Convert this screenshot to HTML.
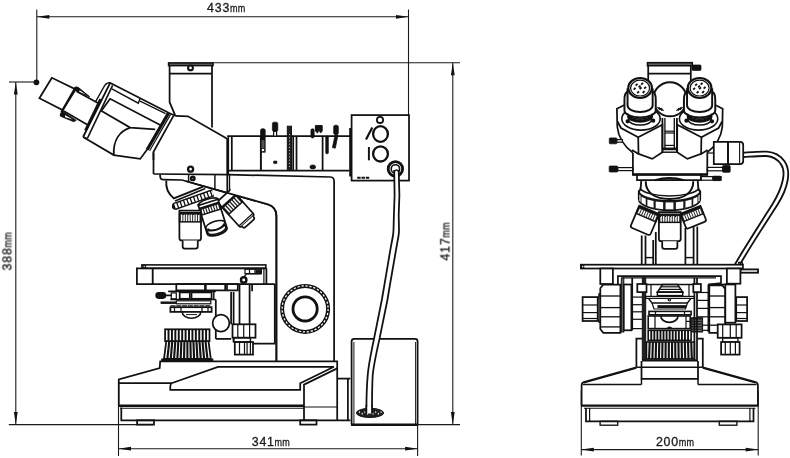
<!DOCTYPE html>
<html><head><meta charset="utf-8"><title>Microscope dimensions</title>
<style>
html,body{margin:0;padding:0;background:#fff;}
body{width:790px;height:458px;overflow:hidden;font-family:"Liberation Sans",sans-serif;}
svg{display:block;}
svg *{vector-effect:none;}
.m{fill:none;stroke:#111;stroke-width:1.75;stroke-linecap:butt;stroke-linejoin:miter;}
.m .w{fill:#fff;}
.m .k{fill:#111;}
.d{fill:none;stroke:#1a1a1a;stroke-width:1.1;}
.d .k{fill:#111;stroke:none;}
text{font-family:"Liberation Sans",sans-serif;fill:#1a1a1a;stroke:#1a1a1a;stroke-width:0.3;}
.tx{filter:url(#gs);}
</style></head><body>
<svg width="790" height="458" viewBox="0 0 790 458">
<defs><filter id="gs" x="-20%" y="-20%" width="140%" height="140%" color-interpolation-filters="sRGB"><feColorMatrix type="saturate" values="0"/></filter></defs>
<rect x="0" y="0" width="790" height="458" fill="#fff"/>
<g class="d">
<line x1="36.8" y1="9.5" x2="36.8" y2="82" />
<circle cx="36.4" cy="82.3" r="2.9" class="k" />
<line x1="9" y1="82" x2="36.8" y2="82" />
<line x1="36.8" y1="16.8" x2="408.5" y2="16.8" />
<polygon points="36.8,16.8 49.3,14.9 49.3,18.7" class="k"/>
<polygon points="408.5,16.8 396,18.7 396,14.9" class="k"/>
<line x1="408.5" y1="9.5" x2="408.5" y2="115.1" />
<line x1="15.8" y1="82" x2="15.8" y2="424.6" />
<polygon points="15.8,82 17.7,94.5 13.9,94.5" class="k"/>
<polygon points="15.8,424.6 13.9,412.1 17.7,412.1" class="k"/>
<line x1="8.8" y1="424.6" x2="153" y2="424.6" />
<line x1="213" y1="62.7" x2="460" y2="62.7" />
<line x1="452.8" y1="62.7" x2="452.8" y2="424.6" />
<polygon points="452.8,62.7 454.7,75.2 450.9,75.2" class="k"/>
<polygon points="452.8,424.6 450.9,412.1 454.7,412.1" class="k"/>
<line x1="417.6" y1="424.6" x2="460" y2="424.6" />
<line x1="118.5" y1="379" x2="118.5" y2="456" />
<line x1="417.6" y1="424.6" x2="417.6" y2="456" />
<line x1="118.5" y1="448.7" x2="417.6" y2="448.7" />
<polygon points="118.5,448.7 131,446.8 131,450.6" class="k"/>
<polygon points="417.6,448.7 405.1,450.6 405.1,446.8" class="k"/>
<line x1="581.3" y1="390.7" x2="581.3" y2="455.6" />
<line x1="758.2" y1="390.7" x2="758.2" y2="455.6" />
<line x1="581.3" y1="449.6" x2="758.2" y2="449.6" />
<polygon points="581.3,449.6 593.8,447.7 593.8,451.5" class="k"/>
<polygon points="758.2,449.6 745.7,451.5 745.7,447.7" class="k"/>
</g>
<g class="tx" transform="translate(226,11.5)"><text x="-18.9" y="0" font-size="12.4">4</text><text x="-11.2" y="0" font-size="12.4">3</text><text x="-3.5" y="0" font-size="12.4">3</text><text transform="translate(3.95,0) scale(0.80,1)" font-size="11.3">m</text><text transform="translate(11.65,0) scale(0.80,1)" font-size="11.3">m</text></g>
<g class="tx" transform="translate(270.6,445.5)"><text x="-18.9" y="0" font-size="12.4">3</text><text x="-11.2" y="0" font-size="12.4">4</text><text x="-3.5" y="0" font-size="12.4">1</text><text transform="translate(3.95,0) scale(0.80,1)" font-size="11.3">m</text><text transform="translate(11.65,0) scale(0.80,1)" font-size="11.3">m</text></g>
<g class="tx" transform="translate(674.8,446)"><text x="-18.9" y="0" font-size="12.4">2</text><text x="-11.2" y="0" font-size="12.4">0</text><text x="-3.5" y="0" font-size="12.4">0</text><text transform="translate(3.95,0) scale(0.80,1)" font-size="11.3">m</text><text transform="translate(11.65,0) scale(0.80,1)" font-size="11.3">m</text></g>
<g class="tx" transform="translate(11.4,251.5) rotate(-90)"><text x="-18.9" y="0" font-size="12.4">3</text><text x="-11.2" y="0" font-size="12.4">8</text><text x="-3.5" y="0" font-size="12.4">8</text><text transform="translate(3.95,0) scale(0.80,1)" font-size="11.3">m</text><text transform="translate(11.65,0) scale(0.80,1)" font-size="11.3">m</text></g>
<g class="tx" transform="translate(449.4,241.6) rotate(-90)"><text x="-18.9" y="0" font-size="12.4">4</text><text x="-11.2" y="0" font-size="12.4">1</text><text x="-3.5" y="0" font-size="12.4">7</text><text transform="translate(3.95,0) scale(0.80,1)" font-size="11.3">m</text><text transform="translate(11.65,0) scale(0.80,1)" font-size="11.3">m</text></g>
<g class="m">
<polyline points="118.8,405.7 118.8,379.4 159.7,368.1 160.2,361.3 337.2,361.3 337.2,420.8"/>
<line x1="118.8" y1="383.2" x2="171.5" y2="383.2" />
<path d="M334,366.8 L218,366.8 L171.5,383.2 Q170,384 170.3,389.9 L300.2,389.9 L300.2,383.2 L334,366.8" />
<polyline points="337.2,368.4 304,384.6 304,420.8"/>
<line x1="118.2" y1="405.7" x2="304" y2="405.7" stroke-width="2.56" />
<line x1="120" y1="408.3" x2="304" y2="408.3" stroke-width="1.1" />
<line x1="304" y1="407" x2="337.2" y2="407" stroke-width="1.22" />
<polyline points="121.3,407.5 121.3,420.3 350.4,420.3"/>
<rect x="137.1" y="420.3" width="16.9" height="4.3"/>
<rect x="300.2" y="420.3" width="16.3" height="4.3"/>
<polyline points="337.2,378.6 350.4,378.6"/>
<line x1="347.9" y1="378.6" x2="347.9" y2="420.3" />
<path d="M351.6,424.6 L351.6,341.5 Q351.6,338.9 354.2,338.9 L415,338.9 Q417.6,338.9 417.6,341.5 L417.6,424.6" class="w" />
<line x1="351" y1="424.8" x2="418.2" y2="424.8" stroke-width="2.44" />
<line x1="353.9" y1="342" x2="353.9" y2="424" stroke-width="0.98" />
<line x1="415.6" y1="342" x2="415.6" y2="424" stroke-width="0.98" />
<path d="M153.5,174 L228,174.6 L330.5,177 Q334.1,177.2 334.1,181.5 L334.1,361.3" />
<path d="M185.4,181 L268,204.4 Q276.4,207 276.4,216 L276.4,361.3" />
</g>
<g class="m">
<rect x="141.9" y="264.9" width="123.9" height="3.4" stroke-width="1.59"/>
<path d="M266.4,268.3 L136.9,268.3 L136.9,284.1 L274.8,284.1" />
<rect x="143" y="265.6" width="2.6" height="2.1" stroke-width="1.1"/>
<line x1="152.7" y1="268.3" x2="152.7" y2="284.1" stroke-width="1.83" />
<line x1="266.4" y1="268.3" x2="266.4" y2="284.1" />
<line x1="263.9" y1="268.3" x2="263.9" y2="284.1" stroke-width="1.22" />
<rect x="245" y="269.2" width="16.4" height="4.4" stroke-width="1.22"/>
<line x1="249.5" y1="269.2" x2="249.5" y2="273.6" stroke-width="1.22" />
<line x1="255" y1="269.2" x2="255" y2="273.6" stroke-width="1.22" />
<rect x="256" y="270.2" width="4.5" height="2.4" stroke-width="0.98" fill="#111"/>
<circle cx="243.7" cy="279.9" r="2.7" stroke-width="2.44" />
<path d="M243.7,277 L246.5,274 L261,274" stroke-width="1.22" />
<polyline points="274.8,284.1 274.8,343.6 253,343.6"/>
<rect x="176.3" y="284.1" width="28.7" height="6.3"/>
<rect x="205.8" y="284.1" width="19.4" height="6.3"/>
<rect x="227" y="284.1" width="10.8" height="6.3"/>
<line x1="252.1" y1="284.1" x2="252.1" y2="291.2" />
<rect x="156.2" y="292.9" width="9.2" height="5.1" fill="#111" rx="2.4"/>
<line x1="165.4" y1="295.4" x2="171.3" y2="295.4" stroke-width="1.71" />
<rect x="171.3" y="292.9" width="5" height="5.9" stroke-width="1.22"/>
<rect x="179.7" y="292.4" width="10.1" height="6.4"/>
<rect x="191.5" y="292.4" width="20.1" height="6.4"/>
<line x1="170.3" y1="299.4" x2="215.8" y2="299.4" stroke-width="1.46" />
<line x1="168.2" y1="291.3" x2="215.8" y2="291.3" stroke-width="1.71" />
<line x1="213.8" y1="291.3" x2="213.8" y2="299.4" stroke-width="1.46" />
<line x1="215.8" y1="299.6" x2="215.8" y2="338.9" />
<line x1="160.6" y1="302.7" x2="176" y2="302.7" stroke-width="2.44" />
<rect x="176.3" y="300.8" width="34.5" height="3" stroke-width="1.22"/>
<line x1="170.5" y1="305.8" x2="211" y2="305.8" stroke-width="1.3" stroke-dasharray="5 0.8"/>
<rect x="170.4" y="307.2" width="41.2" height="4.7"/>
<line x1="174.5" y1="307.2" x2="174.5" y2="311.9" stroke-width="1.22" />
<line x1="181" y1="307.2" x2="181" y2="311.9" stroke-width="1.22" />
<line x1="202" y1="307.2" x2="202" y2="311.9" stroke-width="1.22" />
<line x1="208" y1="307.2" x2="208" y2="311.9" stroke-width="1.22" />
<path d="M182.2,311.9 A9.3,6.3 0 0 0 200.8,311.9" stroke-width="1.59" />
<line x1="186" y1="314.6" x2="197" y2="314.6" stroke-width="0.98" />
<line x1="231.1" y1="292" x2="231.1" y2="324.3" />
<line x1="233.6" y1="292" x2="233.6" y2="342" />
<line x1="239.5" y1="284.1" x2="239.5" y2="324.3" />
<line x1="249.6" y1="284.1" x2="249.6" y2="324.3" />
<polyline points="215.8,338.9 231.1,338.9"/>
<circle cx="221" cy="323.1" r="8.4" class="w" />
<rect x="232.5" y="324.3" width="23" height="13.4" class="w"/>
<line x1="237.8" y1="324.3" x2="237.8" y2="337.7" stroke-width="1.22" />
<line x1="243.7" y1="324.3" x2="243.7" y2="337.7" stroke-width="1.22" />
<line x1="249.6" y1="324.3" x2="249.6" y2="337.7" stroke-width="1.22" />
<rect x="233.6" y="337.7" width="16.8" height="4.3" stroke-width="1.46"/>
<rect x="234.8" y="342" width="18.2" height="12.6"/>
<line x1="239.5" y1="342" x2="239.5" y2="354.6" stroke-width="1.22" />
<line x1="244.5" y1="342" x2="244.5" y2="354.6" stroke-width="1.22" />
<line x1="247.1" y1="342" x2="247.1" y2="354.6" stroke-width="1.22" />
<line x1="250.4" y1="342" x2="250.4" y2="354.6" stroke-width="1.22" />
<circle cx="305.1" cy="308.9" r="23" stroke-width="4.03" />
<circle cx="305.1" cy="308.9" r="23" stroke-width="1.22" stroke="#fff" stroke-dasharray="2.3 1.7"/>
<circle cx="305.1" cy="308.9" r="12.1" stroke-width="2.81" />
<rect x="165.1" y="329.3" width="44.4" height="11.8"/>
<line x1="168.52" y1="329.3" x2="168.52" y2="341.1" stroke-width="1.95" />
<line x1="171.93" y1="329.3" x2="171.93" y2="341.1" stroke-width="1.95" />
<line x1="175.35" y1="329.3" x2="175.35" y2="341.1" stroke-width="1.95" />
<line x1="178.76" y1="329.3" x2="178.76" y2="341.1" stroke-width="1.95" />
<line x1="182.18" y1="329.3" x2="182.18" y2="341.1" stroke-width="1.95" />
<line x1="185.59" y1="329.3" x2="185.59" y2="341.1" stroke-width="1.95" />
<line x1="189.01" y1="329.3" x2="189.01" y2="341.1" stroke-width="1.95" />
<line x1="192.42" y1="329.3" x2="192.42" y2="341.1" stroke-width="1.95" />
<line x1="195.84" y1="329.3" x2="195.84" y2="341.1" stroke-width="1.95" />
<line x1="199.25" y1="329.3" x2="199.25" y2="341.1" stroke-width="1.95" />
<line x1="202.67" y1="329.3" x2="202.67" y2="341.1" stroke-width="1.95" />
<line x1="206.08" y1="329.3" x2="206.08" y2="341.1" stroke-width="1.95" />
<polyline points="166.3,341.1 164,358.8 210.8,358.8 208.5,341.1"/>
<line x1="169.31" y1="341.1" x2="167.34" y2="358.8" stroke-width="2.13" />
<line x1="172.33" y1="341.1" x2="170.69" y2="358.8" stroke-width="2.13" />
<line x1="175.34" y1="341.1" x2="174.03" y2="358.8" stroke-width="2.13" />
<line x1="178.36" y1="341.1" x2="177.37" y2="358.8" stroke-width="2.13" />
<line x1="181.37" y1="341.1" x2="180.71" y2="358.8" stroke-width="2.13" />
<line x1="184.39" y1="341.1" x2="184.06" y2="358.8" stroke-width="2.13" />
<line x1="187.4" y1="341.1" x2="187.4" y2="358.8" stroke-width="2.13" />
<line x1="190.41" y1="341.1" x2="190.74" y2="358.8" stroke-width="2.13" />
<line x1="193.43" y1="341.1" x2="194.09" y2="358.8" stroke-width="2.13" />
<line x1="196.44" y1="341.1" x2="197.43" y2="358.8" stroke-width="2.13" />
<line x1="199.46" y1="341.1" x2="200.77" y2="358.8" stroke-width="2.13" />
<line x1="202.47" y1="341.1" x2="204.11" y2="358.8" stroke-width="2.13" />
<line x1="205.49" y1="341.1" x2="207.46" y2="358.8" stroke-width="2.13" />
<line x1="161.2" y1="359.8" x2="213.3" y2="359.8" stroke-width="2.68" />
</g>
<g class="m">
<path d="M153.5,174 L153.5,152.5" />
<path d="M175.4,115.8 L188,116.3 L227.2,138.7 L227.2,174" />
<circle cx="190.6" cy="169.2" r="2.5" stroke-width="2.32" class="w" />
<path d="M175.4,115.8 L169.6,102.2 L169.6,66 M212,66 L212,127.5" />
<rect x="168.6" y="62.9" width="44.4" height="2.7" stroke-width="1.59" fill="#666"/>
<line x1="169.6" y1="73.6" x2="212" y2="73.6" />
<circle cx="190.5" cy="67.9" r="2.4" stroke-width="2.07" class="w" />
<path d="M227.2,136.2 L350.3,136.2" />
<path d="M227.2,170.5 L349.5,170.5" />
<line x1="228.4" y1="136.2" x2="228.4" y2="174.3" stroke-width="1.46" />
<line x1="231.8" y1="136.2" x2="231.8" y2="170.5" />
<line x1="260.9" y1="136.2" x2="260.9" y2="170.5" stroke-width="1.95" />
<line x1="293.2" y1="136.2" x2="293.2" y2="170.5" />
<line x1="296.5" y1="136.2" x2="296.5" y2="170.5" />
<line x1="322.6" y1="136.2" x2="322.6" y2="170.5" />
<rect x="260.6" y="128.8" width="4.6" height="10.7" stroke-width="0.73" fill="#111" rx="1.5"/>
<rect x="260.9" y="139.5" width="4.1" height="12.5" stroke-width="1.22" fill="#555"/>
<rect x="261.4" y="148.6" width="3" height="2.8" stroke-width="0.73" fill="#fff"/>
<rect x="272.4" y="122.2" width="5.4" height="9.1" stroke-width="0.73" fill="#111" rx="1.5"/>
<rect x="273.6" y="131.3" width="3" height="4.9" stroke-width="1.22" class="w"/>
<rect x="287.3" y="126.2" width="4.2" height="43.6" stroke-width="0.98" fill="#222"/>
<rect x="288.9" y="134" width="1" height="1" stroke-width="0.01" fill="#ddd"/>
<rect x="288.9" y="137.2" width="1" height="1" stroke-width="0.01" fill="#ddd"/>
<rect x="288.9" y="140.4" width="1" height="1" stroke-width="0.01" fill="#ddd"/>
<rect x="288.9" y="143.6" width="1" height="1" stroke-width="0.01" fill="#ddd"/>
<rect x="288.9" y="146.8" width="1" height="1" stroke-width="0.01" fill="#ddd"/>
<rect x="288.9" y="150" width="1" height="1" stroke-width="0.01" fill="#ddd"/>
<rect x="288.9" y="153.2" width="1" height="1" stroke-width="0.01" fill="#ddd"/>
<rect x="288.9" y="156.4" width="1" height="1" stroke-width="0.01" fill="#ddd"/>
<rect x="288.9" y="159.6" width="1" height="1" stroke-width="0.01" fill="#ddd"/>
<rect x="288.9" y="162.8" width="1" height="1" stroke-width="0.01" fill="#ddd"/>
<rect x="288.9" y="166" width="1" height="1" stroke-width="0.01" fill="#ddd"/>
<rect x="273.5" y="161" width="3.5" height="2.6" stroke-width="0.61" fill="#111" rx="0.8"/>
<ellipse cx="312.8" cy="166.9" rx="2.9" ry="2" stroke-width="0.61" fill="#111" />
<rect x="310.9" y="128.8" width="3.3" height="9.2" stroke-width="0.61" fill="#111" rx="1.4"/>
<path d="M315.4,125.6 L322.2,125.6 L322.2,131 L320.5,133 L319,129.5 L317.5,133 L315.4,131 Z" stroke-width="0.98" fill="#111" />
<rect x="333.6" y="125.2" width="4.8" height="9.4" stroke-width="0.61" fill="#111" rx="1.6"/>
<path d="M335.2,134.6 L338,135 L335.3,148.2 L332.4,147.6 Z" stroke-width="0.73" fill="#111" />
<rect x="325.7" y="136.2" width="2.7" height="17.6" stroke-width="0.61" fill="#111" rx="1"/>
<rect x="351.6" y="115.1" width="57.4" height="65.5" class="w"/>
<line x1="350.4" y1="128" x2="350.4" y2="176.5" stroke-width="2.44" />
<circle cx="380" cy="119.9" r="3.1" stroke-width="1.83" />
<ellipse cx="380.5" cy="134" rx="7.4" ry="7.8" stroke-width="2.32" />
<ellipse cx="380.5" cy="153.9" rx="7.4" ry="7.6" stroke-width="2.32" />
<line x1="372.3" y1="127.6" x2="366" y2="139.4" stroke-width="2.2" />
<line x1="368.9" y1="147" x2="368.9" y2="160.3" stroke-width="1.95" />
<line x1="357.2" y1="177.7" x2="369.4" y2="177.7" stroke-width="2" stroke-dasharray="3.4 0.9"/>
<circle cx="395.4" cy="168.9" r="7.2" stroke-width="2.81" class="w" />
<circle cx="395.4" cy="168.9" r="4.2" stroke-width="1.59" />
<path d="M394.2,170 L394.6,195 L393.9,215 L393.5,230 Q393.4,233 392.9,236 L390.1,251.2 L384.4,285 L381.8,300 L374,338.9 C371,353 368.5,366 367.7,375.3 C366.8,386 366.4,398 366.4,410.4 L372,410.4 C372,398 372,386 372.7,375.3 C373.6,366 376.3,353 379.5,338.9 L387.4,300 L389.9,285 L395.8,251.2 L398.5,236 L399,230 L398.7,215 L399.4,195 L398.7,170 Z" stroke-width="0.01" fill="#fff" />
<path d="M394.2,170 L394.6,195 L393.9,215 L393.5,230 Q393.4,233 392.9,236 L390.1,251.2 L384.4,285 L381.8,300 L374,338.9 C371,353 368.5,366 367.7,375.3 C366.8,386 366.4,398 366.4,410.4" stroke-width="1.77" stroke-linejoin="round"/>
<path d="M398.7,170 L399.4,195 L398.7,215 L399,230 Q399,233 398.5,236 L395.8,251.2 L389.9,285 L387.4,300 L379.5,338.9 C376.3,353 373.6,366 372.7,375.3 C372,386 372,398 372,410.4" stroke-width="1.77" stroke-linejoin="round"/>
<path d="M394.2,172 A2.3,2.6 0 0 1 398.7,172" stroke-width="1.46" />
<ellipse cx="370" cy="412.9" rx="13.6" ry="4.6" stroke-width="0.98" fill="#222" />
<ellipse cx="359.5" cy="412.1" rx="0.6" ry="0.9" stroke-width="0.01" fill="#fff" />
<ellipse cx="362.2" cy="413.7" rx="0.6" ry="0.9" stroke-width="0.01" fill="#fff" />
<ellipse cx="364.9" cy="412.1" rx="0.6" ry="0.9" stroke-width="0.01" fill="#fff" />
<ellipse cx="367.6" cy="413.7" rx="0.6" ry="0.9" stroke-width="0.01" fill="#fff" />
<ellipse cx="370.3" cy="412.1" rx="0.6" ry="0.9" stroke-width="0.01" fill="#fff" />
<ellipse cx="373" cy="413.7" rx="0.6" ry="0.9" stroke-width="0.01" fill="#fff" />
<ellipse cx="375.7" cy="412.1" rx="0.6" ry="0.9" stroke-width="0.01" fill="#fff" />
<ellipse cx="378.4" cy="413.7" rx="0.6" ry="0.9" stroke-width="0.01" fill="#fff" />
<ellipse cx="381.1" cy="412.1" rx="0.6" ry="0.9" stroke-width="0.01" fill="#fff" />
<rect x="366.8" y="406" width="5" height="7.5" stroke-width="0.01" fill="#fff"/>
<line x1="366.4" y1="405" x2="366.4" y2="413.5" stroke-width="1.71" />
<line x1="372" y1="405" x2="372" y2="413.5" stroke-width="1.71" />
</g>
<g class="m">
<polygon points="51.9,77.8 39.4,98.2 62.6,110.1 75.7,89.4" class="w"/>
<line x1="75.6" y1="87.4" x2="61.4" y2="112.2" stroke-width="2.2" />
<polygon points="75.9,86.8 78.5,87.6 89.6,96.7 75.2,90.2" stroke-width="0.98" fill="#111"/>
<polygon points="79.6,90.3 85.8,94.6 79.2,91.9" stroke-width="0.01" fill="#fff"/>
<polygon points="62.2,111.2 76.2,120.4 73.5,121.6 60.2,116 60.6,113.4" stroke-width="0.98" fill="#111"/>
<polygon points="65,115 72.6,119.5 65.2,117.2" stroke-width="0.01" fill="#fff"/>
<line x1="76.4" y1="91.3" x2="97.9" y2="102.9" />
<line x1="63.2" y1="110.7" x2="87" y2="124.5" />
<path d="M109.4,82.5 L169.6,113.2 L175.4,115.8" />
<path d="M110.2,82.6 Q106.5,82.6 104.6,85.6 L95.6,101.6" stroke-width="1.34" />
<line x1="110.2" y1="82.9" x2="83.1" y2="137" stroke-width="1.83" />
<line x1="100.6" y1="99.2" x2="85.4" y2="130.5" stroke-width="2.68" />
<line x1="112.6" y1="85.4" x2="87.5" y2="138.2" stroke-width="1.59" />
<path d="M83.1,137 L113.8,155.1 L140.2,158.9 L147.1,149.5" />
<line x1="83.1" y1="137" x2="87.5" y2="138.8" stroke-width="1.46" />
<polyline points="111.9,88.8 138.3,103.2 140.1,98.6" stroke-width="1.46"/>
<line x1="140.1" y1="101.1" x2="165.6" y2="113.6" stroke-width="1.22" />
<path d="M160.2,125.1 L110.1,98.8 L101.8,110.3" />
<path d="M100.7,110.6 L130.1,127.6 L155.2,129.4" />
<path d="M130.1,127.6 C120,131 113,140 113.8,155.1" stroke-width="1.83" />
<line x1="168.6" y1="112.9" x2="147.1" y2="149.8" stroke-width="3.17" />
<line x1="170.6" y1="114.4" x2="149.6" y2="150.8" stroke-width="1.22" />
<path d="M173.6,115.6 L153.4,152 L153.5,160" />
</g>
<g class="m">
<path d="M160,174.4 L160.3,177.5 Q160.6,179.6 163.5,179.7 L182,180 L185.4,181" />
<line x1="188.6" y1="174.4" x2="188.6" y2="181.5" stroke-width="1.46" />
<circle cx="192.8" cy="178.4" r="1.7" stroke-width="2.44" />
<line x1="214.9" y1="175" x2="214.9" y2="189" stroke-width="1.46" />
<line x1="227.2" y1="174" x2="227.2" y2="193.4" stroke-width="1.59" />
<line x1="229.5" y1="174" x2="229.5" y2="194" stroke-width="1.59" />
<path d="M166.3,180.5 C165.5,188 168.5,194 173.8,198.4 L203.2,186.6" stroke-width="1.83" />
<line x1="175" y1="200.9" x2="205.3" y2="188.6" stroke-width="1.59" />
<path d="M174.4,206.5 L213,192.9" stroke-width="7.56" />
<circle cx="175.3" cy="206.2" r="2.6" stroke-width="1.71" fill="#111" />
<path d="M174.4,206.5 L213,192.9" stroke-width="4.64" stroke="#fff" stroke-dasharray="2.25 1.3" stroke-dashoffset="-0.6"/>
</g>
<g class="m" transform="translate(224.13,195.38) rotate(-42)">
<path d="M-9.5,0 L-9.5,32.6 Q-9.5,34.8 -7.3,34.8 L7.3,34.8 Q9.5,34.8 9.5,32.6 L9.5,0 Z" class="w" />
<line x1="-9.5" y1="32.6" x2="9.5" y2="32.6" stroke-width="1.22" />
<path d="M-7.5,34.8 L-7.5,35.8 Q-7.5,37.8 -5.5,37.8 L5.5,37.8 Q7.5,37.8 7.5,35.8 L7.5,34.8" class="w" />
<line x1="-9.5" y1="7" x2="9.5" y2="7" stroke-width="1.46" />
<rect x="-9.5" y="7.6" width="19" height="9.6" stroke-width="1.22" fill="#222"/>
<rect x="-7.83" y="8.9" width="1.5" height="7.4" stroke-width="0.01" fill="#fff"/>
<rect x="-5" y="8.9" width="1.5" height="7.4" stroke-width="0.01" fill="#fff"/>
<rect x="-2.17" y="8.9" width="1.5" height="7.4" stroke-width="0.01" fill="#fff"/>
<rect x="0.67" y="8.9" width="1.5" height="7.4" stroke-width="0.01" fill="#fff"/>
<rect x="3.5" y="8.9" width="1.5" height="7.4" stroke-width="0.01" fill="#fff"/>
<rect x="6.33" y="8.9" width="1.5" height="7.4" stroke-width="0.01" fill="#fff"/>
</g>
<g class="m">
<polygon points="230.6,193.6 268,204.4 274,207 276,211 276.2,178.5 230.6,177.2" stroke-width="0.01" fill="#fff"/>
<path d="M185.4,181 L268,204.4 Q276.4,207 276.4,216 L276.4,361.3" />
</g>
<g class="m" transform="translate(208,201.9) rotate(-17.5)">
<path d="M-10.3,0 L-10.3,30.3 A10.3,4.33 0 0 0 10.3,30.3 L10.3,0 Z" class="w" />
<ellipse cx="0" cy="29.1" rx="9.58" ry="4.12" stroke-width="1.59" class="w" />
<ellipse cx="0" cy="24.8" rx="9.99" ry="4.33" stroke-width="1.59" class="w" />
<path d="M-8.24,25.3 A8.24,3.4 0 0 0 8.24,25.3" stroke-width="1.34" />
<path d="M-10.3,0.5 A10.3,3.2 0 0 1 10.3,0.5 Z" stroke-width="1.59" class="w" />
<line x1="-10.3" y1="3.6" x2="10.3" y2="3.6" stroke-width="1.46" />
<rect x="-10.3" y="4.2" width="20.6" height="6.6" stroke-width="1.22" fill="#222"/>
<rect x="-8.72" y="5.5" width="1.5" height="4.4" stroke-width="0.01" fill="#fff"/>
<rect x="-6.06" y="5.5" width="1.5" height="4.4" stroke-width="0.01" fill="#fff"/>
<rect x="-3.41" y="5.5" width="1.5" height="4.4" stroke-width="0.01" fill="#fff"/>
<rect x="-0.75" y="5.5" width="1.5" height="4.4" stroke-width="0.01" fill="#fff"/>
<rect x="1.91" y="5.5" width="1.5" height="4.4" stroke-width="0.01" fill="#fff"/>
<rect x="4.56" y="5.5" width="1.5" height="4.4" stroke-width="0.01" fill="#fff"/>
<rect x="7.22" y="5.5" width="1.5" height="4.4" stroke-width="0.01" fill="#fff"/>
</g>
<g class="m" transform="translate(190.2,210.7) rotate(0)">
<path d="M-10.8,0 L-10.8,27.5 Q-10.8,29.7 -8.6,29.7 L8.6,29.7 Q10.8,29.7 10.8,27.5 L10.8,0 Z" class="w" />
<path d="M-7.55,29.7 L-7.55,35.8 Q-7.55,37.8 -5.55,37.8 L5.55,37.8 Q7.55,37.8 7.55,35.8 L7.55,29.7" class="w" />
<line x1="-10.8" y1="2" x2="10.8" y2="2" stroke-width="1.46" />
<rect x="-10.8" y="2.6" width="21.6" height="8.7" stroke-width="1.22" fill="#222"/>
<rect x="-9.33" y="3.9" width="1.5" height="6.5" stroke-width="0.01" fill="#fff"/>
<rect x="-6.88" y="3.9" width="1.5" height="6.5" stroke-width="0.01" fill="#fff"/>
<rect x="-4.43" y="3.9" width="1.5" height="6.5" stroke-width="0.01" fill="#fff"/>
<rect x="-1.97" y="3.9" width="1.5" height="6.5" stroke-width="0.01" fill="#fff"/>
<rect x="0.47" y="3.9" width="1.5" height="6.5" stroke-width="0.01" fill="#fff"/>
<rect x="2.93" y="3.9" width="1.5" height="6.5" stroke-width="0.01" fill="#fff"/>
<rect x="5.38" y="3.9" width="1.5" height="6.5" stroke-width="0.01" fill="#fff"/>
<rect x="7.82" y="3.9" width="1.5" height="6.5" stroke-width="0.01" fill="#fff"/>
</g>
<g class="m">
<line x1="648.2" y1="66" x2="648.2" y2="92" />
<line x1="690.8" y1="66" x2="690.8" y2="92" />
<rect x="647.5" y="62.7" width="44.8" height="3" stroke-width="1.59" fill="#666"/>
<line x1="648.2" y1="73.7" x2="690.4" y2="73.7" />
<rect x="692" y="65" width="9" height="5.4" stroke-width="0.73" fill="#111" rx="0.8"/>
</g>
<g class="m">
<circle cx="670" cy="99.3" r="17" stroke-width="1.95" class="w" />
<path d="M624.4,105 L616.9,108.8 L617.3,127 C618.3,137 624,146 632.9,152.8" class="w" />
<ellipse cx="641" cy="118.8" rx="19.2" ry="11.3" class="w" stroke-width="1.6"/>
<polygon points="638.2,137.2 662.4,124.6 662.4,152.2 652.2,158.9 638.5,153.9" class="w"/>
<polyline points="617.5,121.5 621,128 638.2,137.2"/>
<polyline points="632,150.1 638.5,153.9"/>
<circle cx="627.6" cy="121.3" r="1.3" stroke-width="1.59" fill="#111" />
<circle cx="653.2" cy="120.7" r="1.3" stroke-width="1.59" fill="#111" />
<path d="M715.2,105 L722.7,108.8 L722.3,127 C721.3,137 715.6,146 706.7,152.8" class="w" />
<ellipse cx="698.6" cy="118.8" rx="19.2" ry="11.3" class="w" stroke-width="1.6"/>
<polygon points="701.4,137.2 677.2,124.6 677.2,152.2 687.4,158.9 701.1,153.9" class="w"/>
<polyline points="722.1,121.5 718.6,128 701.4,137.2"/>
<polyline points="707.6,150.1 701.1,153.9"/>
<circle cx="712" cy="121.3" r="1.3" stroke-width="1.59" fill="#111" />
<circle cx="686.4" cy="120.7" r="1.3" stroke-width="1.59" fill="#111" />
<path d="M628.1,91.5 Q624.45,92.5 624.45,99.5 L624.45,110.6 A15.65,6.9 0 0 0 655.75,110.6 L655.75,99.5 Q655.75,92.5 652.1,91.5 Z" stroke-width="1.95" class="w" />
<path d="M627.7,113.5 A12.4,5.6 0 0 0 652.5,113.5" stroke-width="1.59" />
<path d="M628.6,116 A11.5,5.2 0 0 0 651.6,116" stroke-width="2.93" />
<path d="M628.5,114 L628.5,119.6 A11.6,5.4 0 0 0 651.7,119.6 L651.7,114" stroke-width="1.59" />
<path d="M627.55,89.3 L627.55,105.6 A12.55,6.3 0 0 0 652.65,105.6 L652.65,89.3 Z" stroke-width="1.95" class="w" />
<ellipse cx="640.1" cy="87.95" rx="11.8" ry="10" stroke-width="2.13" class="w" />
<ellipse cx="640.1" cy="88.1" rx="9.5" ry="7.9" stroke-width="1.22" />
<line x1="635.7" y1="85.7" x2="637.5" y2="83.9" stroke-width="1.83" />
<line x1="641.2" y1="84.7" x2="643" y2="82.9" stroke-width="1.83" />
<line x1="633.7" y1="89.7" x2="635.5" y2="87.9" stroke-width="1.83" />
<line x1="639.7" y1="89.2" x2="641.5" y2="87.4" stroke-width="1.83" />
<line x1="644.2" y1="88.7" x2="646" y2="86.9" stroke-width="1.83" />
<line x1="637.2" y1="93.2" x2="639" y2="91.4" stroke-width="1.83" />
<line x1="642.7" y1="93" x2="644.5" y2="91.2" stroke-width="1.83" />
<line x1="638.7" y1="87.4" x2="640.5" y2="85.6" stroke-width="1.83" />
<path d="M687.6,91.5 Q683.95,92.5 683.95,99.5 L683.95,110.6 A15.65,6.9 0 0 0 715.25,110.6 L715.25,99.5 Q715.25,92.5 711.6,91.5 Z" stroke-width="1.95" class="w" />
<path d="M687.2,113.5 A12.4,5.6 0 0 0 712,113.5" stroke-width="1.59" />
<path d="M688.1,116 A11.5,5.2 0 0 0 711.1,116" stroke-width="2.93" />
<path d="M688,114 L688,119.6 A11.6,5.4 0 0 0 711.2,119.6 L711.2,114" stroke-width="1.59" />
<path d="M687.05,89.3 L687.05,105.6 A12.55,6.3 0 0 0 712.15,105.6 L712.15,89.3 Z" stroke-width="1.95" class="w" />
<ellipse cx="699.6" cy="87.95" rx="11.8" ry="10" stroke-width="2.13" class="w" />
<ellipse cx="699.6" cy="88.1" rx="9.5" ry="7.9" stroke-width="1.22" />
<line x1="695.2" y1="85.7" x2="697" y2="83.9" stroke-width="1.83" />
<line x1="700.7" y1="84.7" x2="702.5" y2="82.9" stroke-width="1.83" />
<line x1="693.2" y1="89.7" x2="695" y2="87.9" stroke-width="1.83" />
<line x1="699.2" y1="89.2" x2="701" y2="87.4" stroke-width="1.83" />
<line x1="703.7" y1="88.7" x2="705.5" y2="86.9" stroke-width="1.83" />
<line x1="696.7" y1="93.2" x2="698.5" y2="91.4" stroke-width="1.83" />
<line x1="702.2" y1="93" x2="704" y2="91.2" stroke-width="1.83" />
<line x1="698.2" y1="87.4" x2="700" y2="85.6" stroke-width="1.83" />
<path d="M657.5,107 L660,109.8 L659,107.5 L662,110.5 L661,108.2 L663.5,110.8" stroke-width="1.22" />
<path d="M682.5,107 L680,109.8 L681,107.5 L678,110.5 L679,108.2 L676.5,110.8" stroke-width="1.22" />
<path d="M662.4,118 L662.4,152.2 M676.9,118 L676.9,152.2" />
<line x1="664.9" y1="118" x2="664.9" y2="148.8" stroke-width="1.34" />
<line x1="674.3" y1="118" x2="674.3" y2="148.8" stroke-width="1.34" />
<line x1="664.9" y1="131.2" x2="674.3" y2="131.2" stroke-width="1.22" />
<line x1="664.9" y1="133" x2="674.3" y2="133" stroke-width="1.22" />
<line x1="664.9" y1="145.4" x2="674.3" y2="145.4" stroke-width="1.22" />
<line x1="662.4" y1="148.9" x2="676.9" y2="148.9" stroke-width="2.68" />
<line x1="662.4" y1="152.2" x2="676.9" y2="152.2" stroke-width="1.46" />
</g>
<g class="m">
<path d="M632.9,153 L632.9,174.5 L707.3,174.5 L707.3,153" />
<line x1="632.3" y1="174.5" x2="707.9" y2="174.5" stroke-width="2.44" />
<rect x="609.3" y="137.9" width="7.6" height="5.9" stroke-width="0.73" fill="#111" rx="0.8"/>
<rect x="616.9" y="139.6" width="5.5" height="2.6" stroke-width="1.22" class="w"/>
<rect x="609.2" y="166" width="8.5" height="6" stroke-width="0.73" fill="#111" rx="0.8"/>
<rect x="617.7" y="167.6" width="15.2" height="3" stroke-width="1.22"/>
<rect x="707.3" y="167.4" width="15.5" height="3.4" stroke-width="1.22"/>
<rect x="722.6" y="165.5" width="7.6" height="6.8" stroke-width="0.73" fill="#111" rx="0.9"/>
<line x1="725.8" y1="165.5" x2="725.8" y2="172.3" stroke-width="0.85" />
<path d="M713.8,164.2 L713.8,141.8 L740,141.8 Q743.2,141.8 743.2,145 L743.2,161 Q743.2,164.2 740,164.2 Z" class="w" />
<line x1="728" y1="141.8" x2="728" y2="164.2" stroke-width="1.95" />
<line x1="739.6" y1="142.4" x2="739.6" y2="163.6" stroke-width="1.1" />
<path d="M707.3,153 L713.8,153" stroke-width="1.22" />
<path d="M743.2,152.6 C752,152 760,151.3 766.7,151.6 C774,152 780.5,155.6 784.5,161.3 C788.5,167 788.7,174 787.7,180 C786,190 783,196 777.3,205 C770.5,215.5 746.8,252.5 740,264.4" stroke-width="1.83" />
<path d="M743.2,157 C752,156.5 760,155.8 766.7,156 C772.5,156.4 777.5,159.3 780.8,164 C784,168.5 784,174.5 782.8,180 C781,189 778,195 772.6,204 C766,214.5 741.5,252.5 735,264.4" stroke-width="1.83" />
<path d="M637,174.5 L637,180.2 L700.9,180.2 L700.9,174.5" stroke-width="1.71" />
<path d="M655,180.2 Q669.5,176 684,180.2" stroke-width="2.2" />
<rect x="700.9" y="176.6" width="20.1" height="3.6" stroke-width="1.22"/>
<rect x="712.5" y="176.2" width="8.5" height="4.4" stroke-width="0.73" fill="#111" rx="1"/>
</g>
<g class="m">
<path d="M641.3,180.2 L640.7,188 Q640.3,190.3 638.8,191.5" stroke-width="1.83" />
<path d="M697.7,180.2 L698.3,188 Q698.7,190.3 700.2,191.5" stroke-width="1.83" />
<path d="M645.7,181.2 C645.7,193 655,199 669.5,199 C684,199 693.3,193 693.3,181.2" stroke-width="1.95" class="w" />
</g>
<g class="m" transform="translate(649.2,209.8) rotate(23)">
<path d="M-10.75,0 L-10.75,21.2 Q-10.75,23.4 -8.55,23.4 L8.55,23.4 Q10.75,23.4 10.75,21.2 L10.75,0 Z" class="w" />
<line x1="-10.75" y1="0.8" x2="10.75" y2="0.8" stroke-width="1.46" />
<rect x="-10.75" y="1.4" width="21.5" height="7.2" stroke-width="1.22" fill="#222"/>
<rect x="-9.28" y="2.7" width="1.5" height="5" stroke-width="0.01" fill="#fff"/>
<rect x="-6.84" y="2.7" width="1.5" height="5" stroke-width="0.01" fill="#fff"/>
<rect x="-4.41" y="2.7" width="1.5" height="5" stroke-width="0.01" fill="#fff"/>
<rect x="-1.97" y="2.7" width="1.5" height="5" stroke-width="0.01" fill="#fff"/>
<rect x="0.47" y="2.7" width="1.5" height="5" stroke-width="0.01" fill="#fff"/>
<rect x="2.91" y="2.7" width="1.5" height="5" stroke-width="0.01" fill="#fff"/>
<rect x="5.34" y="2.7" width="1.5" height="5" stroke-width="0.01" fill="#fff"/>
<rect x="7.78" y="2.7" width="1.5" height="5" stroke-width="0.01" fill="#fff"/>
</g>
<g class="m" transform="translate(690.4,209.8) rotate(-22)">
<path d="M-10.75,0 L-10.75,14.3 Q-10.75,16.5 -8.55,16.5 L8.55,16.5 Q10.75,16.5 10.75,14.3 L10.75,0 Z" class="w" />
<line x1="-10.75" y1="0.8" x2="10.75" y2="0.8" stroke-width="1.46" />
<rect x="-10.75" y="1.4" width="21.5" height="7.2" stroke-width="1.22" fill="#222"/>
<rect x="-9.28" y="2.7" width="1.5" height="5" stroke-width="0.01" fill="#fff"/>
<rect x="-6.84" y="2.7" width="1.5" height="5" stroke-width="0.01" fill="#fff"/>
<rect x="-4.41" y="2.7" width="1.5" height="5" stroke-width="0.01" fill="#fff"/>
<rect x="-1.97" y="2.7" width="1.5" height="5" stroke-width="0.01" fill="#fff"/>
<rect x="0.47" y="2.7" width="1.5" height="5" stroke-width="0.01" fill="#fff"/>
<rect x="2.91" y="2.7" width="1.5" height="5" stroke-width="0.01" fill="#fff"/>
<rect x="5.34" y="2.7" width="1.5" height="5" stroke-width="0.01" fill="#fff"/>
<rect x="7.78" y="2.7" width="1.5" height="5" stroke-width="0.01" fill="#fff"/>
</g>
<g class="m" transform="translate(669.8,212.2) rotate(0)">
<path d="M-10.9,0 L-10.9,26.8 Q-10.9,29 -8.7,29 L8.7,29 Q10.9,29 10.9,26.8 L10.9,0 Z" class="w" />
<path d="M-7.6,29 L-7.6,34.6 Q-7.6,36.6 -5.6,36.6 L5.6,36.6 Q7.6,36.6 7.6,34.6 L7.6,29" class="w" />
<line x1="-10.9" y1="2" x2="10.9" y2="2" stroke-width="1.46" />
<rect x="-10.9" y="2.6" width="21.8" height="7.7" stroke-width="1.22" fill="#222"/>
<rect x="-9.41" y="3.9" width="1.5" height="5.5" stroke-width="0.01" fill="#fff"/>
<rect x="-6.94" y="3.9" width="1.5" height="5.5" stroke-width="0.01" fill="#fff"/>
<rect x="-4.46" y="3.9" width="1.5" height="5.5" stroke-width="0.01" fill="#fff"/>
<rect x="-1.99" y="3.9" width="1.5" height="5.5" stroke-width="0.01" fill="#fff"/>
<rect x="0.49" y="3.9" width="1.5" height="5.5" stroke-width="0.01" fill="#fff"/>
<rect x="2.96" y="3.9" width="1.5" height="5.5" stroke-width="0.01" fill="#fff"/>
<rect x="5.44" y="3.9" width="1.5" height="5.5" stroke-width="0.01" fill="#fff"/>
<rect x="7.91" y="3.9" width="1.5" height="5.5" stroke-width="0.01" fill="#fff"/>
</g>
<g class="m">
<path d="M638.6,190.6 A30.9,10.2 0 0 0 700.4,190.6 L700.4,199 A30.9,11.4 0 0 1 638.6,199 Z" stroke-width="1.46" fill="#1a1a1a" />
<polygon points="639.4,194.61 640.56,195.87 640.56,201.99 639.4,200.58" stroke-width="0.01" fill="#fff"/>
<polygon points="641.52,196.63 645.73,198.82 645.73,205.28 641.52,202.84" stroke-width="0.01" fill="#fff"/>
<polygon points="647.39,199.42 653.54,201.03 653.54,207.76 647.39,205.96" stroke-width="0.01" fill="#fff"/>
<polygon points="655.71,201.43 663.13,202.28 663.13,209.16 655.71,208.2" stroke-width="0.01" fill="#fff"/>
<polygon points="665.57,202.42 673.43,202.42 673.43,209.31 665.57,209.31" stroke-width="0.01" fill="#fff"/>
<polygon points="675.87,202.28 683.29,201.43 683.29,208.2 675.87,209.16" stroke-width="0.01" fill="#fff"/>
<polygon points="685.46,201.03 691.61,199.42 691.61,205.96 685.46,207.76" stroke-width="0.01" fill="#fff"/>
<polygon points="693.27,198.82 697.48,196.63 697.48,202.84 693.27,205.28" stroke-width="0.01" fill="#fff"/>
<polygon points="698.44,195.87 699.6,194.61 699.6,200.58 698.44,201.99" stroke-width="0.01" fill="#fff"/>
</g>
<g class="m">
<path d="M640.2,188.5 A30,9.5 0 0 0 698.8,188.5" stroke-width="1.46" />
<line x1="641.7" y1="235.5" x2="641.7" y2="264.8" />
<line x1="645.5" y1="235.5" x2="645.5" y2="264.8" />
<line x1="653.2" y1="240" x2="653.2" y2="264.8" />
<line x1="655.8" y1="232" x2="655.8" y2="264.8" />
<line x1="645.5" y1="257.6" x2="653.2" y2="257.6" stroke-width="1.46" />
<line x1="685.4" y1="228" x2="685.4" y2="264.8" />
<line x1="693.6" y1="226.5" x2="693.6" y2="264.8" />
<line x1="697.3" y1="226.5" x2="697.3" y2="264.8" />
<line x1="685.4" y1="257.6" x2="693.6" y2="257.6" stroke-width="1.46" />
<rect x="580.9" y="264.7" width="162" height="3.8" class="w"/>
<rect x="581.6" y="265.4" width="2.2" height="2.4" stroke-width="0.85"/>
<rect x="740.4" y="269.4" width="17.6" height="3.3" stroke-width="1.83"/>
<polyline points="738.7,264.7 738.7,262.3 742.2,262.3 742.9,264.7" stroke-width="1.22"/>
<rect x="600.3" y="268.5" width="12.6" height="15.5" class="w"/>
<rect x="726.9" y="268.5" width="13.5" height="15.2" class="w"/>
<path d="M617.9,284 L617.9,276.1 L721,276.1 L721,283 L708.4,284.5" stroke-width="1.71" />
<line x1="622" y1="277.9" x2="716" y2="277.9" stroke-width="1.22" />
<line x1="708.4" y1="284.5" x2="726.9" y2="284.5" />
<path d="M603.3,284.5 L620.4,284.5 L620.4,332.8 L603.3,332.8 L600.3,329 L600.3,288.3 Z" class="w" />
<line x1="600.3" y1="296" x2="620.4" y2="296" stroke-width="1.34" />
<line x1="600.3" y1="307.6" x2="620.4" y2="307.6" stroke-width="1.34" />
<line x1="600.3" y1="316.8" x2="620.4" y2="316.8" stroke-width="1.34" />
<line x1="600.3" y1="326.9" x2="620.4" y2="326.9" stroke-width="1.34" />
<rect x="582.6" y="297.1" width="15.1" height="23.9" class="w"/>
<line x1="582.6" y1="305" x2="597.7" y2="305" stroke-width="1.22" />
<line x1="582.6" y1="312.6" x2="597.7" y2="312.6" stroke-width="1.22" />
<line x1="582.6" y1="318.5" x2="597.7" y2="318.5" stroke-width="1.22" />
<path d="M597.7,299 L600.3,293 M597.7,319.5 L600.3,323" stroke-width="1.22" />
<line x1="599" y1="293" x2="599" y2="323" stroke-width="1.1" />
<rect x="621.3" y="277.9" width="2.5" height="54.1" stroke-width="0.98" fill="#666"/>
<rect x="623.8" y="284.5" width="7.6" height="45.8" class="w"/>
<line x1="632.2" y1="277.9" x2="632.2" y2="330.3" />
<line x1="632.2" y1="297.1" x2="642.3" y2="297.1" stroke-width="1.22" />
<line x1="632.2" y1="304.7" x2="642.3" y2="304.7" stroke-width="1.22" />
<line x1="632.2" y1="311.8" x2="642.3" y2="311.8" stroke-width="1.22" />
<line x1="632.2" y1="319.3" x2="642.3" y2="319.3" stroke-width="1.22" />
<line x1="632.2" y1="328.6" x2="642.3" y2="328.6" stroke-width="1.22" />
<path d="M709.3,285.4 L722.3,285.4 L725.3,289 L725.3,329 L722.3,332.8 L709.3,332.8 Z" class="w" />
<line x1="709.3" y1="296" x2="725.3" y2="296" stroke-width="1.34" />
<line x1="709.3" y1="307.6" x2="725.3" y2="307.6" stroke-width="1.34" />
<line x1="709.3" y1="316.8" x2="725.3" y2="316.8" stroke-width="1.34" />
<line x1="709.3" y1="325.2" x2="725.3" y2="325.2" stroke-width="1.34" />
<rect x="725.3" y="284.5" width="10.1" height="38.2" class="w"/>
<rect x="736.2" y="297.1" width="10.9" height="23.9" class="w"/>
<line x1="736.2" y1="305" x2="747.1" y2="305" stroke-width="1.22" />
<line x1="736.2" y1="312.6" x2="747.1" y2="312.6" stroke-width="1.22" />
<line x1="736.2" y1="318.5" x2="747.1" y2="318.5" stroke-width="1.22" />
<line x1="697.5" y1="292.5" x2="709.3" y2="292.5" stroke-width="1.22" />
<line x1="697.5" y1="300.4" x2="709.3" y2="300.4" stroke-width="1.22" />
<line x1="697.5" y1="308.4" x2="709.3" y2="308.4" stroke-width="1.22" />
<line x1="697.5" y1="316.8" x2="709.3" y2="316.8" stroke-width="1.22" />
<line x1="697.5" y1="325.2" x2="709.3" y2="325.2" stroke-width="1.22" />
<line x1="697.5" y1="330.3" x2="709.3" y2="330.3" stroke-width="1.22" />
<line x1="708.4" y1="284.5" x2="708.4" y2="332" />
<rect x="717.7" y="324.4" width="23.9" height="13.4" class="w"/>
<line x1="722.7" y1="324.4" x2="722.7" y2="337.8" stroke-width="1.22" />
<line x1="730.3" y1="324.4" x2="730.3" y2="337.8" stroke-width="1.22" />
<line x1="736.2" y1="324.4" x2="736.2" y2="337.8" stroke-width="1.22" />
<rect x="722.7" y="337.8" width="15.2" height="4.2" stroke-width="1.34"/>
<rect x="721.1" y="342" width="18.5" height="12.6" class="w"/>
<line x1="725.3" y1="342" x2="725.3" y2="354.6" stroke-width="1.22" />
<line x1="730.3" y1="342" x2="730.3" y2="354.6" stroke-width="1.22" />
<line x1="735.4" y1="342" x2="735.4" y2="354.6" stroke-width="1.22" />
<rect x="691.6" y="317.7" width="11" height="14.3" stroke-width="0.98" fill="#222"/>
<line x1="692.4" y1="320.2" x2="701.8" y2="320.2" stroke="#bbb" stroke-width="0.6"/>
<line x1="692.4" y1="322.8" x2="701.8" y2="322.8" stroke="#bbb" stroke-width="0.6"/>
<line x1="692.4" y1="325.4" x2="701.8" y2="325.4" stroke="#bbb" stroke-width="0.6"/>
<line x1="692.4" y1="328" x2="701.8" y2="328" stroke="#bbb" stroke-width="0.6"/>
<line x1="692.4" y1="330.4" x2="701.8" y2="330.4" stroke="#bbb" stroke-width="0.6"/>
<rect x="642.3" y="277.9" width="3.4" height="81.8" stroke-width="0.98" fill="#222"/>
<line x1="694.4" y1="277.9" x2="694.4" y2="359.7" />
<line x1="697" y1="277.9" x2="697" y2="359.7" />
<rect x="637.3" y="284" width="9.2" height="8.1" class="w"/>
<rect x="693.3" y="284" width="7.6" height="8.1" class="w"/>
<polygon points="662.5,284.5 677.6,284.5 682.7,292.1 657.4,292.1" stroke-width="1.59" fill="#fff"/>
<line x1="661.2" y1="286.8" x2="678.8" y2="286.8" stroke-width="1.22" />
<line x1="659.4" y1="289.4" x2="680.6" y2="289.4" stroke-width="1.22" />
<rect x="657.4" y="292.1" width="25.3" height="3.5" stroke-width="1.46"/>
<path d="M651,284.5 L651,296 M689,284.5 L689,296" stroke-width="1.22" />
<line x1="646.5" y1="284.5" x2="693.3" y2="284.5" stroke-width="1.59" />
<rect x="645.7" y="296.4" width="48.7" height="2" stroke-width="1.22"/>
<circle cx="669.4" cy="299.8" r="1.2" stroke-width="1.22" class="w" />
<path d="M648.5,298.4 L652,303 L687.4,303 L691,298.4" stroke-width="1.46" />
<line x1="657.4" y1="306.6" x2="686" y2="306.6" stroke-width="2.93" />
<path d="M652,303 L654,309 L685.5,309 L687.4,303" stroke-width="1.22" />
<rect x="649" y="311.4" width="42.1" height="3.4" stroke-width="1.59"/>
<line x1="655.5" y1="311.4" x2="655.5" y2="314.8" stroke-width="1.22" />
<line x1="684.5" y1="311.4" x2="684.5" y2="314.8" stroke-width="1.22" />
<rect x="648.2" y="316" width="42" height="12.6" stroke-width="1.59"/>
<path d="M660.8,316 A8.6,6.4 0 0 0 678,316" stroke-width="1.71" />
<line x1="655" y1="316" x2="655" y2="328.6" stroke-width="1.22" />
<line x1="686" y1="316" x2="686" y2="328.6" stroke-width="1.22" />
<line x1="686" y1="321.4" x2="690.2" y2="321.4" stroke-width="1.22" />
<path d="M667.5,328.6 A2,1.6 0 0 1 671.5,328.6" stroke-width="1.22" fill="#111" />
<rect x="648.2" y="330.3" width="42.9" height="10.1" stroke-width="1.59"/>
<line x1="651.26" y1="330.3" x2="651.26" y2="340.4" stroke-width="1.89" />
<line x1="654.33" y1="330.3" x2="654.33" y2="340.4" stroke-width="1.89" />
<line x1="657.39" y1="330.3" x2="657.39" y2="340.4" stroke-width="1.89" />
<line x1="660.46" y1="330.3" x2="660.46" y2="340.4" stroke-width="1.89" />
<line x1="663.52" y1="330.3" x2="663.52" y2="340.4" stroke-width="1.89" />
<line x1="666.59" y1="330.3" x2="666.59" y2="340.4" stroke-width="1.89" />
<line x1="669.65" y1="330.3" x2="669.65" y2="340.4" stroke-width="1.89" />
<line x1="672.71" y1="330.3" x2="672.71" y2="340.4" stroke-width="1.89" />
<line x1="675.78" y1="330.3" x2="675.78" y2="340.4" stroke-width="1.89" />
<line x1="678.84" y1="330.3" x2="678.84" y2="340.4" stroke-width="1.89" />
<line x1="681.91" y1="330.3" x2="681.91" y2="340.4" stroke-width="1.89" />
<line x1="684.97" y1="330.3" x2="684.97" y2="340.4" stroke-width="1.89" />
<line x1="688.04" y1="330.3" x2="688.04" y2="340.4" stroke-width="1.89" />
<rect x="646.5" y="342" width="47.9" height="16.9" stroke-width="1.59"/>
<line x1="649.69" y1="342" x2="649.07" y2="358.9" stroke-width="2.13" />
<line x1="652.89" y1="342" x2="652.36" y2="358.9" stroke-width="2.13" />
<line x1="656.08" y1="342" x2="655.65" y2="358.9" stroke-width="2.13" />
<line x1="659.27" y1="342" x2="658.94" y2="358.9" stroke-width="2.13" />
<line x1="662.47" y1="342" x2="662.23" y2="358.9" stroke-width="2.13" />
<line x1="665.66" y1="342" x2="665.52" y2="358.9" stroke-width="2.13" />
<line x1="668.85" y1="342" x2="668.81" y2="358.9" stroke-width="2.13" />
<line x1="672.05" y1="342" x2="672.1" y2="358.9" stroke-width="2.13" />
<line x1="675.24" y1="342" x2="675.39" y2="358.9" stroke-width="2.13" />
<line x1="678.43" y1="342" x2="678.67" y2="358.9" stroke-width="2.13" />
<line x1="681.63" y1="342" x2="681.96" y2="358.9" stroke-width="2.13" />
<line x1="684.82" y1="342" x2="685.25" y2="358.9" stroke-width="2.13" />
<line x1="688.01" y1="342" x2="688.54" y2="358.9" stroke-width="2.13" />
<line x1="691.21" y1="342" x2="691.83" y2="358.9" stroke-width="2.13" />
<path d="M642.3,338.7 L636.4,338.7 L636.4,367.3" />
<path d="M697.5,338.7 L702.8,338.7 L702.8,367.3" />
<line x1="642" y1="360.4" x2="698" y2="360.4" stroke-width="2.44" />
<path d="M641.5,361.1 L641.5,378.9 L698,378.9 L698,361.1" />
<line x1="636.4" y1="367.3" x2="702.8" y2="367.3" stroke-width="1.46" />
<path d="M641.5,384.4 L583,384.4 M698,384.4 L756.5,384.4" stroke-width="1.46" />
<path d="M641.5,378.9 L641.5,384.4 M698,378.9 L698,384.4" stroke-width="1.46" />
<path d="M636.4,367.3 L583.8,382 Q581.6,382.8 581.6,385.5 L581.6,405.6 M702.8,367.3 L755.7,382 Q757.9,382.8 757.9,385.5 L757.9,405.6" />
<line x1="636.4" y1="367.9" x2="583.8" y2="382.7" stroke-width="1.59" />
<line x1="702.8" y1="367.9" x2="755.7" y2="382.7" stroke-width="1.59" />
<line x1="581" y1="405.6" x2="758.5" y2="405.6" stroke-width="2.44" />
<line x1="584" y1="408.3" x2="755.5" y2="408.3" stroke-width="1.1" />
<path d="M586,408 L586,421.3 L753.5,421.3 L753.5,408" />
<line x1="589.6" y1="408" x2="589.6" y2="421.3" stroke-width="1.22" />
<line x1="749.9" y1="408" x2="749.9" y2="421.3" stroke-width="1.22" />
<rect x="600.1" y="421.3" width="17.6" height="3.9" stroke-width="1.34"/>
<rect x="719.3" y="421.3" width="17.6" height="3.9" stroke-width="1.34"/>
</g>
</svg>
</body></html>
